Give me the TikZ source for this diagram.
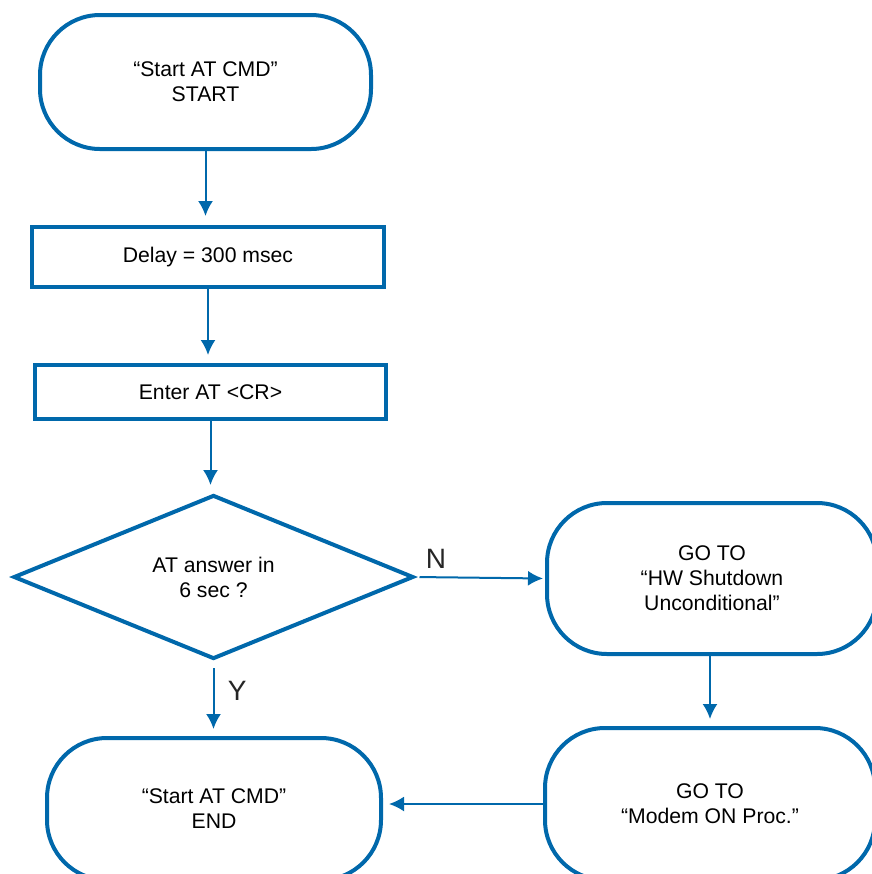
\documentclass[tikz,border=0pt]{standalone}
\usepackage{fontspec}
\setmainfont{Liberation Sans}
\usetikzlibrary{shapes.geometric, arrows.meta, positioning}
\definecolor{flowblue}{RGB}{0,104,171}
\tikzset{
  terminal/.style={draw=flowblue, line width=2pt, rectangle, rounded corners=30pt, align=center, inner sep=0pt, font=\fontsize{10.6}{12.5}\selectfont},
  process/.style={draw=flowblue, line width=2pt, rectangle, align=center, inner sep=0pt, font=\fontsize{10.6}{12.5}\selectfont},
  decision/.style={draw=flowblue, line width=2pt, diamond, align=center, inner sep=0pt, font=\fontsize{10.6}{12.5}\selectfont},
  flow/.style={draw=flowblue, line width=1pt, -{Latex[length=7.5pt,width=7.5pt]}},
  answer/.style={font=\fontsize{14}{16}\selectfont, text=black!85, inner sep=1pt}
}

\begin{document}
\begin{tikzpicture}[x=0.5pt, y=-0.5pt]
\useasboundingbox (0,0) rectangle (872,874);
% main column
\node[terminal, minimum width=165.5pt, minimum height=67pt] (start) at (205.5,82) {“Start AT CMD”\\START};
\node[process, minimum width=176pt, minimum height=30pt] (delay) at (208,257) {Delay = 300 msec};
\node[process, minimum width=175.5pt, minimum height=27pt] (enter) at (210.5,392) {Enter AT <CR>};
\node[decision, minimum width=200pt, minimum height=82pt] (answer) at (213.5,577) {AT answer in\\6 sec ?};
\node[terminal, minimum width=167pt, minimum height=71pt] (stop) at (214,809) {“Start AT CMD”\\END};
% right column
\node[terminal, minimum width=165pt, minimum height=75.5pt] (shutdown) at (712,578.5) {GO TO\\“HW Shutdown\\Unconditional”};
\node[terminal, minimum width=165pt, minimum height=76pt] (modem) at (710,804) {GO TO\\“Modem ON Proc.”};
% connectors
\draw[flow, shorten >=4.5pt] (start.south) -- (start.south |- delay.north);
\draw[flow, shorten >=4pt] (delay.south) -- (delay.south |- enter.north);
\draw[flow, shorten >=4pt] (enter.south) -- (enter.south |- answer.north);
\draw[flow, shorten <=2pt, shorten >=1pt] (answer.east) -- (shutdown.west);
\draw[flow, shorten <=3.5pt, shorten >=3.5pt] (answer.south) -- (answer.south |- stop.north) coordinate[pos=0.1] (yes);
\draw[flow, shorten >=3.5pt] (shutdown.south -| modem.north) -- (modem.north);
\draw[flow, shorten >=3pt] (modem.west) -- (modem.west -| stop.east);
% answers
\node[answer, above right=3pt and 4pt of answer.east] (no) {N};
\node[answer, right=6pt of yes, yshift=-11pt] (yeslabel) {Y};
\end{tikzpicture}
\end{document}
